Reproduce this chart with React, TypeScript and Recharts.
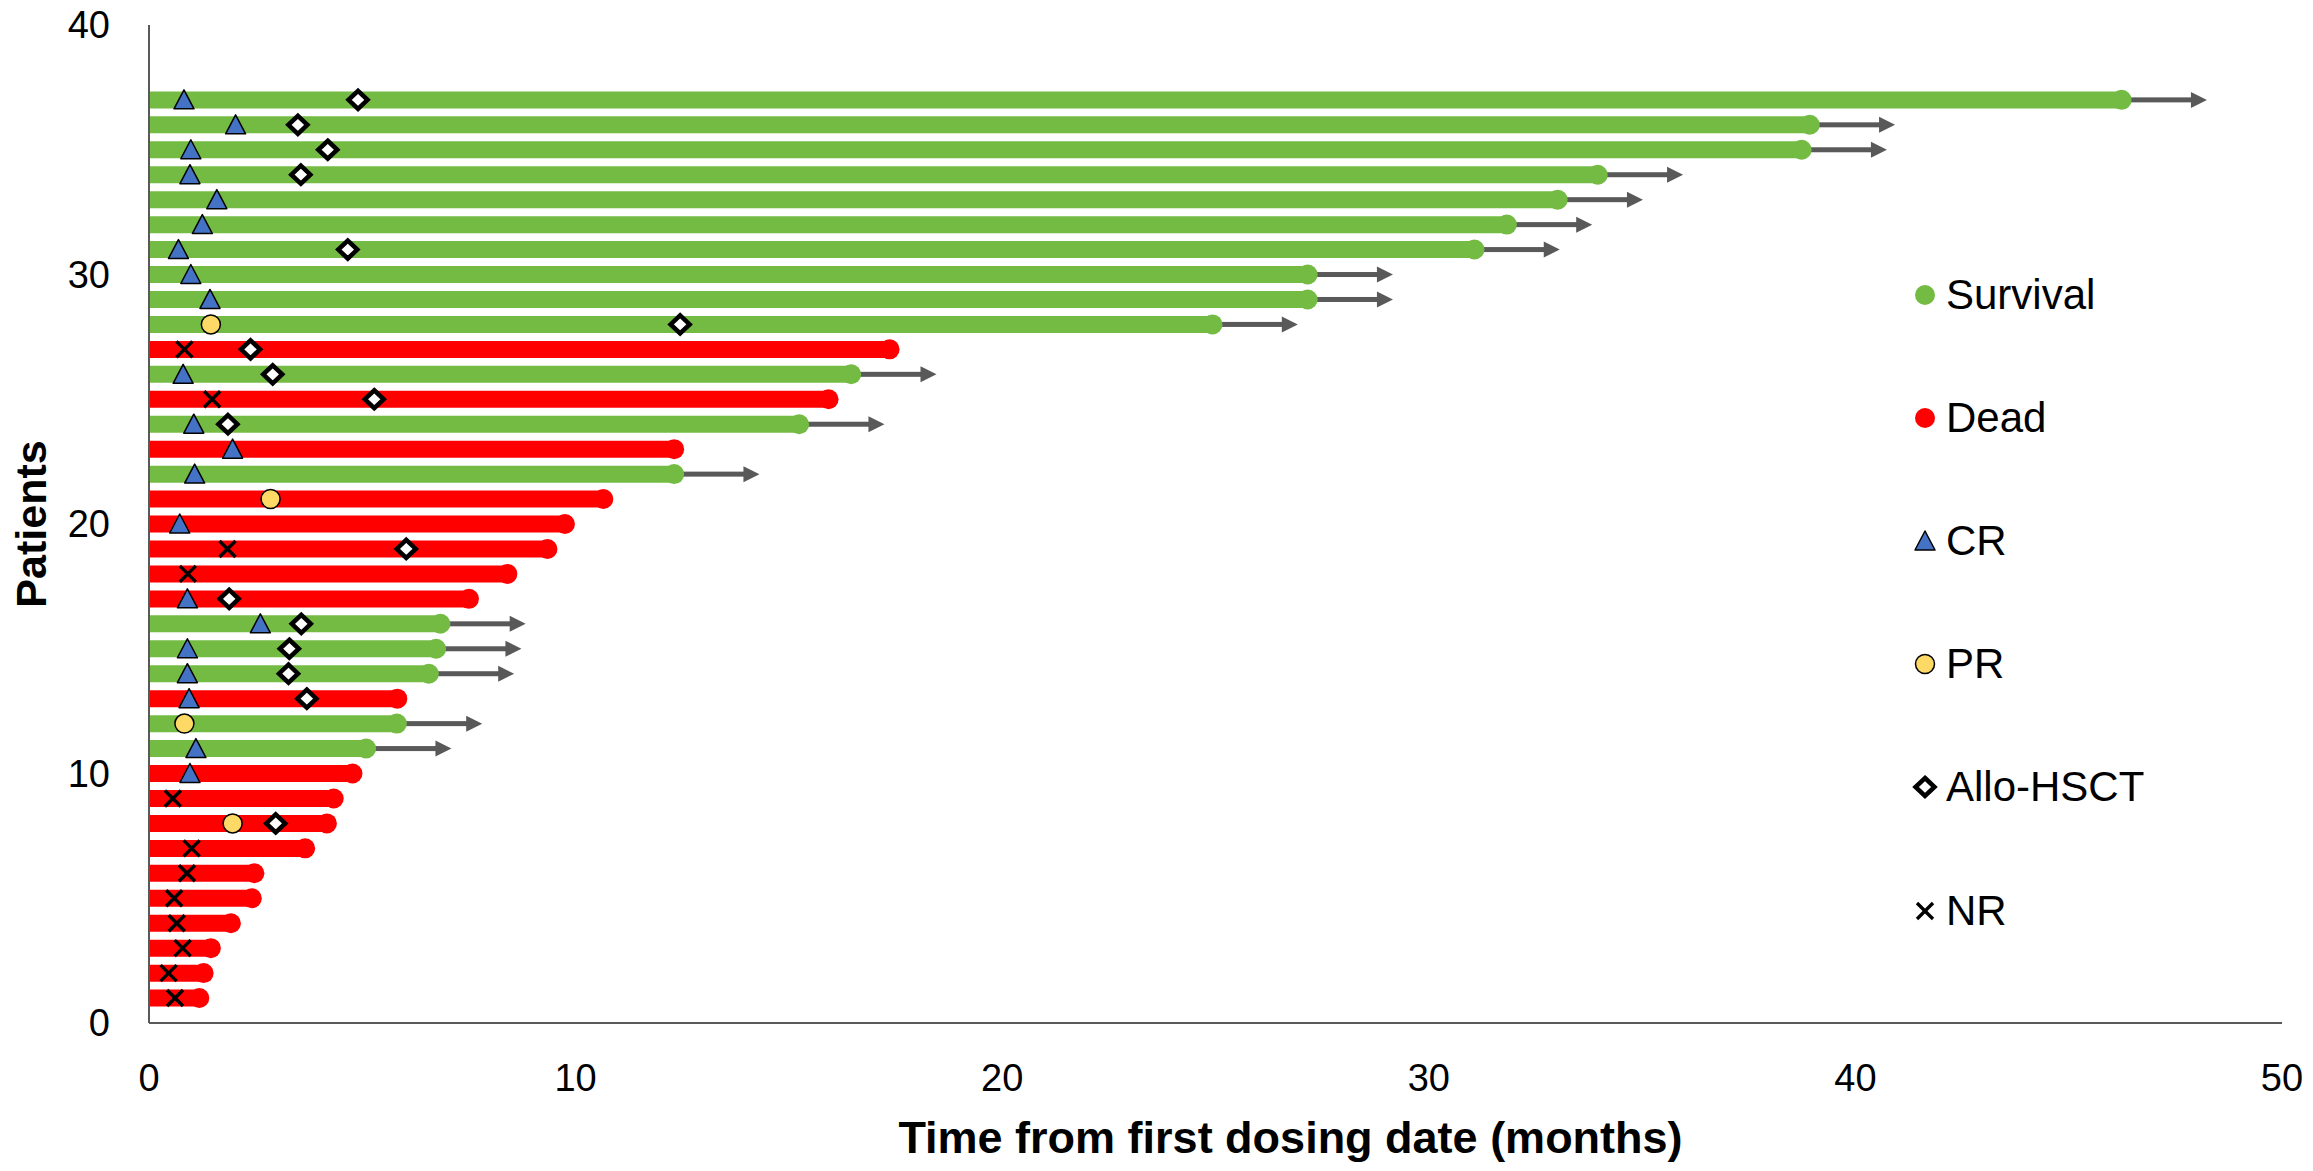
import React from 'react'
import { ComposedChart, Bar, Cell, Scatter, XAxis, YAxis, Legend } from 'recharts'

const FONT = '"Liberation Sans", Arial, sans-serif'
const GREEN = '#74BB43'
const RED = '#FF0000'
const ARROW = '#595959'

// one entry per patient, bottom (1) to top (37)
const patients = [
  1, 2, 3, 4, 5, 6, 7, 8, 9, 10, 11, 12, 13, 14, 15, 16, 17, 18, 19, 20,
  21, 22, 23, 24, 25, 26, 27, 28, 29, 30, 31, 32, 33, 34, 35, 36, 37,
]
const alive = [
  false, false, false, false, false, false, false, false, false, false,
  true, true, false, true, true, true, false, false, false, false,
  false, true, false, true, false, true, false, true, true, true,
  true, true, true, true, true, true, true,
]
const followUp = [
  1.18, 1.28, 1.45, 1.92, 2.41, 2.47, 3.66, 4.17, 4.33, 4.77,
  5.09, 5.81, 5.82, 6.56, 6.73, 6.83, 7.5, 8.4, 9.34, 9.75,
  10.65, 12.31, 12.31, 15.24, 15.93, 16.46, 17.36, 24.93, 27.16, 27.16,
  31.07, 31.83, 33.02, 33.96, 38.74, 38.93, 46.24,
]
// arrow length (months) drawn after patients still in follow-up
const ongoingArrow = 2

const crPatients = [37, 36, 35, 34, 33, 32, 31, 30, 29, 26, 24, 23, 22, 20, 17, 16, 15, 14, 13, 11, 10]
const crTimes = [0.82, 2.03, 0.98, 0.96, 1.59, 1.25, 0.69, 0.98, 1.43, 0.8, 1.05, 1.96, 1.07, 0.72, 0.9, 2.61, 0.9, 0.9, 0.94, 1.1, 0.96]

const prPatients = [28, 21, 12, 8]
const prTimes = [1.45, 2.85, 0.83, 1.96]

const hsctPatients = [37, 36, 35, 34, 31, 28, 27, 26, 25, 24, 19, 17, 16, 15, 14, 13, 8]
const hsctTimes = [4.9, 3.49, 4.19, 3.56, 4.66, 12.45, 2.38, 2.9, 5.28, 1.85, 6.03, 1.88, 3.57, 3.29, 3.27, 3.7, 2.97]

const nrPatients = [27, 25, 19, 18, 9, 7, 6, 5, 4, 3, 2, 1]
const nrTimes = [0.83, 1.48, 1.84, 0.91, 0.56, 1.0, 0.89, 0.59, 0.65, 0.79, 0.46, 0.61]

const xTicks = [0, 10, 20, 30, 40, 50]
const yTicks = [0, 10, 20, 30, 40]

const rows = patients.map((p, i) => ({
  patient: p,
  end: followUp[i],
  arrow: alive[i] ? ongoingArrow : null,
}))

const toPoints = (ps: number[], ts: number[]) => ps.map((p, i) => ({ patient: p, t: ts[i] }))
const survivalPts = rows.filter((r, i) => alive[i]).map((r) => ({ patient: r.patient, t: r.end }))
const deadPts = rows.filter((r, i) => !alive[i]).map((r) => ({ patient: r.patient, t: r.end }))
const crPts = toPoints(crPatients, crTimes)
const prPts = toPoints(prPatients, prTimes)
const hsctPts = toPoints(hsctPatients, hsctTimes)
const nrPts = toPoints(nrPatients, nrTimes)

type Kind = 'survival' | 'dead' | 'cr' | 'pr' | 'hsct' | 'nr'

function marker(kind: Kind, cx: number, cy: number) {
  switch (kind) {
    case 'survival':
      return <circle cx={cx} cy={cy} r={10} fill={GREEN} />
    case 'dead':
      return <circle cx={cx} cy={cy} r={10} fill={RED} />
    case 'cr':
      return (
        <polygon
          points={`${cx},${cy - 10} ${cx + 10},${cy + 9} ${cx - 10},${cy + 9}`}
          fill="#4472C4"
          stroke="#000"
          strokeWidth={1.5}
          strokeLinejoin="round"
        />
      )
    case 'pr':
      return <circle cx={cx} cy={cy} r={9.5} fill="#FFD966" stroke="#000" strokeWidth={1.5} />
    case 'hsct':
      return (
        <polygon
          points={`${cx},${cy - 9} ${cx + 9.5},${cy} ${cx},${cy + 9} ${cx - 9.5},${cy}`}
          fill="#fff"
          stroke="#000"
          strokeWidth={4.5}
        />
      )
    case 'nr':
      return (
        <g stroke="#000" strokeWidth={3.4}>
          <line x1={cx - 8} y1={cy - 8} x2={cx + 8} y2={cy + 8} />
          <line x1={cx - 8} y1={cy + 8} x2={cx + 8} y2={cy - 8} />
        </g>
      )
  }
}

const shapeOf = (kind: Kind) => (props: any) => marker(kind, props.cx, props.cy)

function ArrowShape(props: any) {
  const { x, y, width, height } = props
  if (!width || width <= 0) return null
  const cy = y + height / 2
  const tip = x + width
  return (
    <g fill={ARROW} stroke="none">
      <rect x={x} y={cy - 2.5} width={width - 14} height={5} />
      <polygon points={`${tip},${cy} ${tip - 16},${cy - 8} ${tip - 16},${cy + 8}`} />
    </g>
  )
}

const legendItems: { name: string; kind: Kind }[] = [
  { name: 'Survival', kind: 'survival' },
  { name: 'Dead', kind: 'dead' },
  { name: 'CR', kind: 'cr' },
  { name: 'PR', kind: 'pr' },
  { name: 'Allo-HSCT', kind: 'hsct' },
  { name: 'NR', kind: 'nr' },
]

function renderLegend() {
  return (
    <div style={{ fontFamily: FONT, fontSize: 42, color: '#000' }}>
      {legendItems.map((it) => (
        <div key={it.name} style={{ height: 123.2, display: 'flex', alignItems: 'center' }}>
          <svg width={30} height={30} style={{ overflow: 'visible' }}>
            {marker(it.kind, 15, 15)}
          </svg>
          <span style={{ marginLeft: 6, lineHeight: 1 }}>{it.name}</span>
        </div>
      ))}
    </div>
  )
}

const xTitle = (props: any) => {
  const vb = props.viewBox
  return (
    <text
      x={vb.x + vb.width / 2 + 75}
      y={vb.y + vb.height - 18}
      textAnchor="middle"
      fontFamily={FONT}
      fontWeight="bold"
      fontSize={45}
      fill="#000"
    >
      Time from first dosing date (months)
    </text>
  )
}

const yTitle = (props: any) => {
  const vb = props.viewBox
  const x = 38
  const y = vb.y + vb.height / 2
  return (
    <text
      x={x}
      y={y}
      transform={`rotate(-90 ${x} ${y})`}
      textAnchor="middle"
      fontFamily={FONT}
      fontWeight="bold"
      fontSize={43}
      fill="#000"
    >
      Patients
    </text>
  )
}

export default function App() {
  const tick = { fill: '#000', fontSize: 38, fontFamily: FONT }
  const axisLine = { stroke: '#595959', strokeWidth: 2 }
  return (
    <div style={{ width: 2305, height: 1171, marginTop: -8, fontFamily: FONT }}>
      <ComposedChart
        width={2305}
        height={1171}
        data={rows}
        layout="vertical"
        margin={{ top: 25, right: 31, bottom: 0, left: 0 }}
      >
        <XAxis
          type="number"
          domain={[0, 50]}
          ticks={xTicks}
          interval={0}
          allowDataOverflow
          tickLine={false}
          tickSize={0}
          tickMargin={41}
          axisLine={axisLine}
          tick={tick}
          height={148}
          label={{ content: xTitle }}
        />
        <YAxis
          type="number"
          dataKey="patient"
          domain={[0, 40]}
          ticks={yTicks}
          interval={0}
          reversed
          tickLine={false}
          tickSize={0}
          tickMargin={39}
          axisLine={axisLine}
          tick={tick}
          width={141}
          label={{ content: yTitle }}
        />
        <Legend
          layout="vertical"
          align="center"
          verticalAlign="middle"
          content={renderLegend}
          wrapperStyle={{ left: 1902, top: 233, width: 400 }}
        />
        <Bar dataKey="end" stackId="s" barSize={17} isAnimationActive={false}>
          {rows.map((r, i) => (
            <Cell key={r.patient} fill={alive[i] ? GREEN : RED} />
          ))}
        </Bar>
        <Bar dataKey="arrow" stackId="s" barSize={17} shape={ArrowShape} isAnimationActive={false} />
        <Scatter name="Survival" data={survivalPts} dataKey="t" shape={shapeOf('survival')} isAnimationActive={false} />
        <Scatter name="Dead" data={deadPts} dataKey="t" shape={shapeOf('dead')} isAnimationActive={false} />
        <Scatter name="CR" data={crPts} dataKey="t" shape={shapeOf('cr')} isAnimationActive={false} />
        <Scatter name="PR" data={prPts} dataKey="t" shape={shapeOf('pr')} isAnimationActive={false} />
        <Scatter name="Allo-HSCT" data={hsctPts} dataKey="t" shape={shapeOf('hsct')} isAnimationActive={false} />
        <Scatter name="NR" data={nrPts} dataKey="t" shape={shapeOf('nr')} isAnimationActive={false} />
      </ComposedChart>
    </div>
  )
}
